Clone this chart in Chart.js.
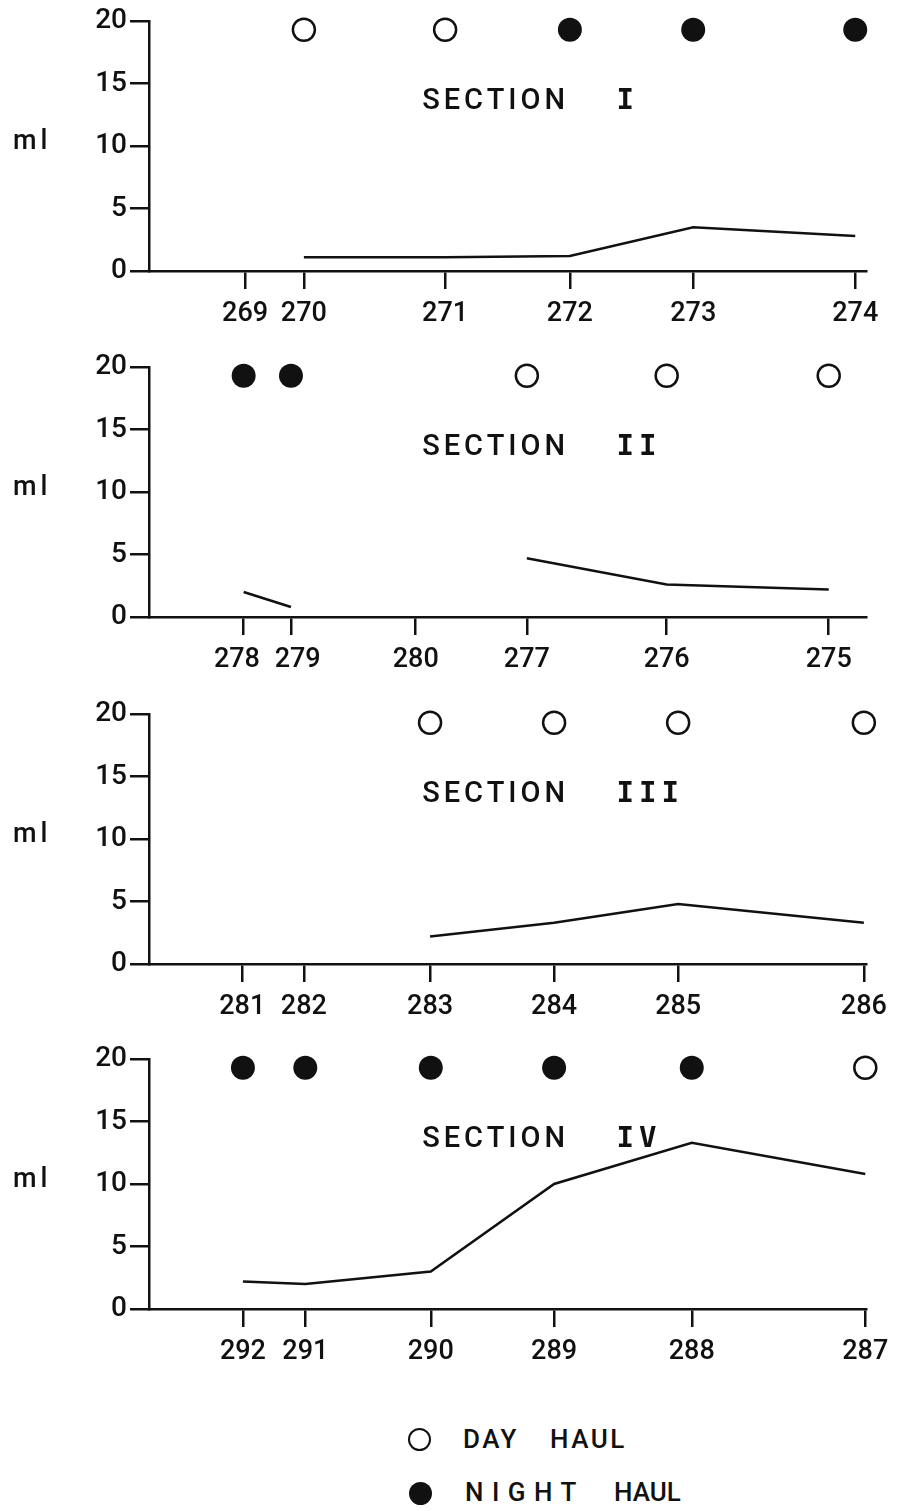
<!DOCTYPE html>
<html>
<head>
<meta charset="UTF-8">
<title>Sections I - IV</title>
<script src="https://cdn.jsdelivr.net/npm/chart.js"></script>
<style>
  body { margin: 0; background: #fff; width: 898px; height: 1511px; position: relative; overflow: hidden;
         font-family: Roboto, "Liberation Sans", Arial, sans-serif; font-weight: 500; color: #111; }
  canvas { position: absolute; left: 0; }
  .key { position: absolute; font-size: 26px; line-height: 26px; white-space: pre; }
  .dot { position: absolute; width: 23px; height: 23px; border-radius: 50%; box-sizing: border-box; }
  .dot.day { border: 2.5px solid #111; background: #fff; }
  .dot.night { background: #111; }
</style>
</head>
<body>
<canvas id="c1" width="898" height="331" style="top:0px"></canvas>
<canvas id="c2" width="898" height="331" style="top:346px"></canvas>
<canvas id="c3" width="898" height="331" style="top:693px"></canvas>
<canvas id="c4" width="898" height="331" style="top:1038px"></canvas>

<div class="dot day" style="left:408px; top:1428px"></div>
<div class="key" style="left:463px; top:1426px; letter-spacing:2.5px">DAY</div>
<div class="key" style="left:550px; top:1426px; letter-spacing:2.5px">HAUL</div>
<div class="dot night" style="left:409px; top:1482px"></div>
<div class="key" style="left:465px; top:1479px; letter-spacing:8.5px">NIGHT</div>
<div class="key" style="left:614px; top:1479px; letter-spacing:0px">HAUL</div>

<script>
// stations along each section (left to right), relative distance, volume (ml), haul (D = day, N = night)
const stations1 = ['269', '270', '271', '272', '273', '274'];
const dist1 = [13.4, 21.6, 41.3, 58.7, 75.9, 98.5];
const ml1 = [null, 1.1, 1.1, 1.2, 3.5, 2.8];
const haul1 = ['', 'D', 'D', 'N', 'N', 'N'];

const stations2 = ['278', '279', '280', '277', '276', '275'];
const dist2 = [13.2, 19.8, 37.2, 52.7, 72.2, 94.8];
const ml2 = [2.0, 0.8, null, 4.7, 2.6, 2.2];
const haul2 = ['N', 'N', '', 'D', 'D', 'D'];

const stations3 = ['281', '282', '283', '284', '285', '286'];
const dist3 = [13.0, 21.6, 39.2, 56.5, 73.8, 99.7];
const ml3 = [null, null, 2.2, 3.3, 4.8, 3.3];
const haul3 = ['', '', 'D', 'D', 'D', 'D'];

const stations4 = ['292', '291', '290', '289', '288', '287'];
const dist4 = [13.1, 21.8, 39.3, 56.5, 75.7, 99.9];
const ml4 = [2.2, 2.0, 3.0, 10.0, 13.3, 10.8];
const haul4 = ['N', 'N', 'N', 'N', 'N', 'D'];

const yTicks = [0, 5, 10, 15, 20];
const HAUL_Y = 19.3;   // haul symbols sit along the top of each panel

const INK = '#111';
const FONT = 'Roboto, "Liberation Sans", Arial, sans-serif';

const textPlugin = {
  id: 'panelText',
  afterDraw(chart, args, opts) {
    const { ctx, scales: { x, y } } = chart;
    ctx.save();
    ctx.fillStyle = INK;
    ctx.textAlign = 'left';
    ctx.textBaseline = 'alphabetic';

    ctx.font = '500 27px ' + FONT;
    ctx.letterSpacing = '4px';
    ctx.fillText('ml', 13, y.getPixelForValue(9.8));

    const yc = y.getPixelForValue(13.8);
    ctx.font = '500 29px ' + FONT;
    ctx.letterSpacing = '4px';
    ctx.fillText('SECTION', x.getPixelForValue(38.1), yc + 0.355 * 29);

    ctx.font = 'bold 29px "DejaVu Sans Mono", monospace';
    ctx.letterSpacing = '5px';
    ctx.fillText(opts.numeral, x.getPixelForValue(65.2), yc + 0.36 * 29);
    ctx.restore();
  }
};

function drawPanel(id, numeral, stations, dist, ml, haul) {
  const line = dist.map((d, i) => ({ x: d, y: ml[i] }));
  const day = dist.filter((d, i) => haul[i] === 'D').map(d => ({ x: d, y: HAUL_Y }));
  const night = dist.filter((d, i) => haul[i] === 'N').map(d => ({ x: d, y: HAUL_Y }));

  // push apart the labels of two stations that sit very close together
  const label = (v, i) => {
    let s = stations[i];
    if (i + 1 < dist.length && dist[i + 1] - dist[i] < 7.5) s = s + '  ';
    if (i > 0 && dist[i] - dist[i - 1] < 7.5) s = '  ' + s;
    return s;
  };

  new Chart(document.getElementById(id), {
    type: 'line',
    data: {
      datasets: [
        { data: line, borderColor: INK, borderWidth: 2.5, pointRadius: 0, tension: 0, spanGaps: false, fill: false },
        { data: day, showLine: false, pointRadius: 11, pointBorderWidth: 2.5,
          pointBackgroundColor: '#fff', pointBorderColor: INK, clip: false },
        { data: night, showLine: false, pointRadius: 12, pointBorderWidth: 0,
          pointBackgroundColor: INK, pointBorderColor: INK, clip: false }
      ]
    },
    options: {
      responsive: false,
      animation: false,
      events: [],
      layout: { padding: { top: 21, left: 0, right: 32, bottom: 0 } },
      plugins: { legend: { display: false }, tooltip: { enabled: false }, panelText: { numeral } },
      scales: {
        x: {
          type: 'linear', min: 0, max: 100,
          afterBuildTicks: s => { s.ticks = dist.map(v => ({ value: v })); },
          afterFit: s => { s.height = 60; },
          ticks: { autoSkip: false, maxRotation: 0, padding: 9, color: INK,
                   font: { size: 27, family: FONT, weight: 500 }, callback: label },
          grid: { drawOnChartArea: false, drawTicks: true, tickLength: 18, color: INK, lineWidth: 2.5 },
          border: { display: true, color: INK, width: 2.5 }
        },
        y: {
          min: 0, max: 20,
          afterBuildTicks: s => { s.ticks = yTicks.map(v => ({ value: v })); },
          afterFit: s => { s.width = 149; },
          ticks: { padding: 3, color: INK, font: { size: 28, family: FONT, weight: 500 } },
          grid: { drawOnChartArea: false, drawTicks: true, tickLength: 19, color: INK, lineWidth: 2.5 },
          border: { display: true, color: INK, width: 2.5 }
        }
      }
    },
    plugins: [textPlugin]
  });
}

drawPanel('c1', 'I', stations1, dist1, ml1, haul1);
drawPanel('c2', 'II', stations2, dist2, ml2, haul2);
drawPanel('c3', 'III', stations3, dist3, ml3, haul3);
drawPanel('c4', 'IV', stations4, dist4, ml4, haul4);
</script>
</body>
</html>
